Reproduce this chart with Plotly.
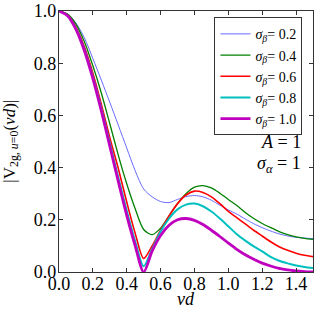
import plotly.graph_objects as go

vd = [0.0, 0.05, 0.10, 0.15, 0.20, 0.25, 0.30, 0.35, 0.40, 0.45, 0.50, 0.55, 0.60, 0.65, 0.70,
      0.75, 0.80, 0.85, 0.90, 0.95, 1.00, 1.05, 1.10, 1.15, 1.20, 1.25, 1.30, 1.35, 1.40, 1.45, 1.50]

v_sb02 = [1.0, 0.989, 0.954, 0.897, 0.818, 0.735, 0.650, 0.563, 0.475, 0.388, 0.318, 0.288, 0.270, 0.266, 0.278,
          0.289, 0.293, 0.288, 0.275, 0.256, 0.238, 0.222, 0.203, 0.185, 0.170, 0.157, 0.146, 0.138, 0.133, 0.130, 0.128]
v_sb04 = [1.0, 0.988, 0.950, 0.882, 0.790, 0.686, 0.568, 0.448, 0.338, 0.242, 0.163, 0.143, 0.168, 0.215, 0.262,
          0.300, 0.325, 0.331, 0.322, 0.302, 0.278, 0.255, 0.228, 0.205, 0.186, 0.170, 0.155, 0.143, 0.135, 0.129, 0.125]
v_sb06 = [1.0, 0.985, 0.938, 0.862, 0.762, 0.643, 0.515, 0.397, 0.268, 0.148, 0.052, 0.100, 0.160, 0.215, 0.262,
          0.295, 0.310, 0.305, 0.288, 0.262, 0.232, 0.208, 0.184, 0.160, 0.138, 0.116, 0.097, 0.083, 0.072, 0.064, 0.059]
v_sb08 = [1.0, 0.983, 0.933, 0.853, 0.748, 0.627, 0.494, 0.362, 0.235, 0.117, 0.022, 0.088, 0.155, 0.205, 0.240,
          0.258, 0.262, 0.252, 0.232, 0.205, 0.175, 0.145, 0.120, 0.098, 0.079, 0.058, 0.043, 0.033, 0.025, 0.019, 0.015]
v_sb10 = [1.0, 0.982, 0.930, 0.848, 0.741, 0.617, 0.482, 0.347, 0.217, 0.100, 0.0, 0.080, 0.140, 0.179, 0.200,
          0.205, 0.198, 0.182, 0.160, 0.136, 0.111, 0.087, 0.066, 0.049, 0.034, 0.023, 0.014, 0.008, 0.004, 0.0015, 0.0]

labels = ["0.2", "0.4", "0.6", "0.8", "1.0"]
series = [v_sb02, v_sb04, v_sb06, v_sb08, v_sb10]
colors = ["#6a6aff", "#008000", "#ff0000", "#00bfbf", "#bf00bf"]
widths = [1.0, 1.3, 1.6, 2.0, 2.8]

x_ticks = [0.0, 0.2, 0.4, 0.6, 0.8, 1.0, 1.2, 1.4]
y_ticks = [0.0, 0.2, 0.4, 0.6, 0.8, 1.0]

FONT = "Liberation Serif"

fig = go.Figure()
for lab, ys, c, w in zip(labels, series, colors, widths):
    fig.add_trace(go.Scatter(
        x=vd, y=ys, mode="lines",
        line=dict(color=c, width=w, shape="spline", smoothing=0.8),
        name=f"<i>σ</i><sub><i>β</i></sub>=<span> </span>{lab}",
    ))

axis_common = dict(
    showline=True, linecolor="#333333", linewidth=1.2, mirror="ticks",
    ticks="inside", ticklen=4, tickcolor="#333333", tickwidth=1,
    showgrid=False, zeroline=False, ticklabeloverflow="allow",
    tickfont=dict(family=FONT, size=18, color="black"),
)

fig.update_xaxes(range=[0, 1.5], tickvals=x_ticks, ticktext=[f"{t:.1f}" for t in x_ticks],
                 ticklabelstandoff=-5, **axis_common)
fig.update_yaxes(range=[0, 1.0], tickvals=y_ticks, ticktext=[f"{t:.1f}" for t in y_ticks],
                 ticklabelstandoff=-2, **axis_common)

fig.update_layout(
    width=315, height=310,
    margin=dict(l=59, r=1, t=9, b=38),
    plot_bgcolor="white", paper_bgcolor="white",
    font=dict(family=FONT, color="black"),
    showlegend=True,
    legend=dict(
        x=0.612, y=0.976, xanchor="left", yanchor="top",
        bordercolor="#333333", borderwidth=1, bgcolor="white",
        font=dict(family=FONT, size=14), tracegroupgap=0,
        itemwidth=30,
    ),
    annotations=[
        dict(text="<i>A</i> = 1", xref="paper", yref="paper", x=0.962, y=0.500,
             xanchor="right", yanchor="middle", showarrow=False,
             font=dict(family=FONT, size=18)),
        dict(text="<i>σ</i><sub><i>α</i></sub> = 1", xref="paper", yref="paper", x=0.962, y=0.413,
             xanchor="right", yanchor="middle", showarrow=False,
             font=dict(family=FONT, size=18)),
        dict(text="<i>vd</i>", xref="paper", yref="paper", x=0.5, y=-0.103,
             xanchor="center", yanchor="middle", showarrow=False,
             font=dict(family=FONT, size=18)),
        dict(text="|V<sub>2g, <i>u</i>=0</sub>(<i>vd</i>)|", xref="paper", yref="paper",
             x=-0.192, y=0.5, xanchor="center", yanchor="middle", textangle=-90,
             showarrow=False, font=dict(family=FONT, size=17)),
    ],
)

fig.write_html("out.html", config={"displayModeBar": False},
               post_script="document.body.style.margin='0';")
